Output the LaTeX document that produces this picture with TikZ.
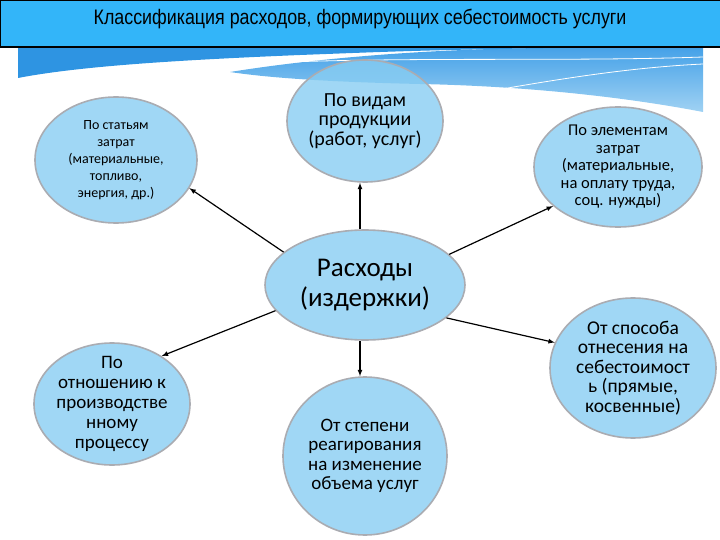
\documentclass[tikz,border=0pt]{standalone}
\usepackage{fontspec}
\setmainfont{Carlito}
\newfontfamily\titlefont[FakeStretch=0.85]{Liberation Sans}
\usetikzlibrary{arrows,shapes.geometric}
\definecolor{barblue}{RGB}{51,181,249}
\definecolor{blobfill}{RGB}{136,205,242}
\definecolor{blobline}{RGB}{170,172,178}
\definecolor{banddark}{RGB}{46,148,226}
\definecolor{bandtop}{RGB}{70,162,232}
\definecolor{bandlow}{RGB}{160,210,243}
\tikzstyle{blob}=[ellipse, draw=blobline, line width=1.6pt, fill=blobfill,
    fill opacity=0.8, text opacity=1, inner sep=-8pt, align=center]
\tikzstyle{arr}=[-latex, line width=1.2pt, black]
\newcommand{\blob}{\node[blob]}

\begin{document}
\begin{tikzpicture}[x=1pt, y=-1pt]
\useasboundingbox (0,0) rectangle (720,540);
% wave under the title
\shade[top color=bandtop, bottom color=bandlow]
    (230,72) .. controls (330,56) and (450,48) .. (560,48) -- (703,48) -- (703,112)
    .. controls (620,96) and (520,86) .. (420,84)
    .. controls (330,82) and (270,78) .. (230,72) -- cycle;
\fill[banddark] (18,48) -- (560,48)
    .. controls (420,50) and (380,52) .. (300,55)
    .. controls (180,60) and (80,66) .. (18,78) -- cycle;
\draw[white, line width=0.8pt] (240,64) .. controls (400,56) and (560,62) .. (703,57);
\draw[white, line width=0.8pt] (440,100) .. controls (540,82) and (620,68) .. (703,64);
% title
\draw[line width=1.2pt, fill=barblue] (0.6,0.6) rectangle (725,47);
\node[font=\titlefont\fontsize{21}{24}\selectfont] (title) at (360,19)
    {Классификация расходов, формирующих себестоимость услуги};

\blob (c) at (365,285) [minimum width=200pt, minimum height=110pt,
    font=\fontsize{27}{30}\selectfont] {Расходы\\(издержки)};
\blob (e1) at (116,160) [minimum width=162pt, minimum height=126pt,
    font=\fontsize{14}{17}\selectfont] {По статьям\\затрат\\(материальные,\\топливо,\\энергия, др.)};
\blob (e2) at (365,121) [minimum width=156pt, minimum height=122pt,
    font=\fontsize{20}{19.5}\selectfont] {По видам\\продукции\\(работ, услуг)};
\blob (e3) at (618,167) [minimum width=168pt, minimum height=120pt,
    font=\fontsize{16.5}{17.5}\selectfont] {По элементам\\затрат\\(материальные,\\на оплату труда,\\соц. нужды)};
\blob (e4) at (112,404) [minimum width=156pt, minimum height=122pt,
    font=\fontsize{19}{20}\selectfont] {По\\отношению к\\производстве\\нному\\процессу};
\blob (e5) at (365,456) [minimum width=164pt, minimum height=158pt,
    font=\fontsize{19}{19.5}\selectfont] {От степени\\реагирования\\на изменение\\объема услуг};
\blob (e6) at (633,368) [minimum width=166pt, minimum height=140pt,
    font=\fontsize{19.5}{19.5}\selectfont] {От способа\\отнесения на\\себестоимост\\ь (прямые,\\косвенные)};

\draw[arr] (c.158) -- (e1.-21);
\draw[arr] ([xshift=-5pt]c.north) -- ([xshift=-5pt]e2.south);
\draw[arr] (c.20) -- (e3.211);
\draw[arr] (c.196) -- (e4.44);
\draw[arr] ([xshift=-5pt]c.south) -- ([xshift=-5pt]e5.north);
\draw[arr] (c.-22) -- (e6.162);
\end{tikzpicture}
\end{document}
